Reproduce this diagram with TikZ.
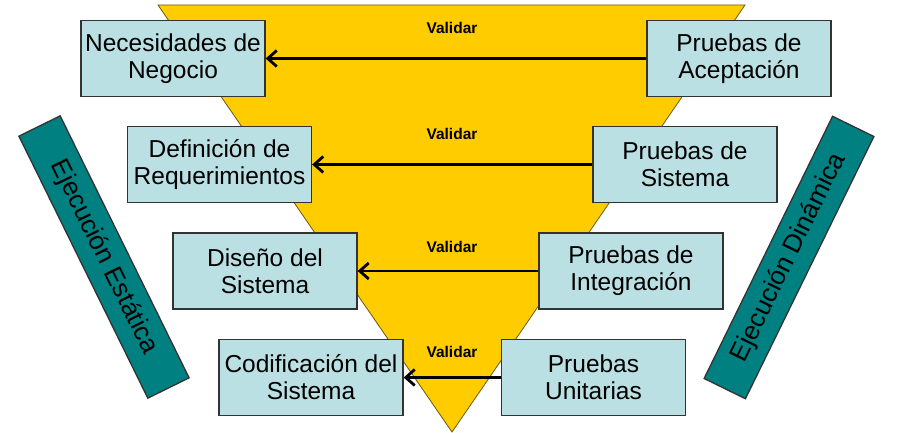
\documentclass[tikz,border=0pt]{standalone}
\usepackage{fontspec}
\setmainfont{Liberation Sans}
\usetikzlibrary{arrows.meta}
\definecolor{boxfill}{HTML}{BBE0E3}
\definecolor{tealbar}{HTML}{008080}
\definecolor{vyellow}{HTML}{FFCC00}
\definecolor{edgegray}{HTML}{333333}
\definecolor{triedge}{HTML}{6B5A10}
\begin{document}
\begin{tikzpicture}[x=1pt,y=-1pt,
  stage/.style={draw=edgegray, line width=1.3pt, fill=boxfill, minimum width=184pt, minimum height=76pt, inner sep=0pt, align=center, font=\fontsize{24.5}{27}\selectfont},
  phase/.style={draw=edgegray, line width=1.3pt, fill=tealbar, minimum width=292pt, minimum height=46pt, inner sep=0pt, font=\fontsize{26}{30}\selectfont},
  validar/.style={font=\bfseries\fontsize{15.5}{17}\selectfont},
  flow/.style={line width=2.8pt, -{Straight Barb[length=9pt,width=16pt]}}
]
\useasboundingbox (0,0) rectangle (900,433);
\fill[white] (0,0) rectangle (900,433);
\coordinate (tl) at (158,5);
\coordinate (tr) at (745,5);
\coordinate (ap) at (452,432);
\draw[fill=vyellow, draw=triedge, line width=0.8pt] (tl) -- (tr) -- (ap) -- cycle;

\node[stage] (L1) at (173,58.5) {Necesidades de\\Negocio};
\node[stage] (L2) at (219.5,164.5) {Definición de\\Requerimientos};
\node[stage] (L3) at (265,271) {Diseño del\\Sistema};
\node[stage] (L4) at (311,377.5) {Codificación del\\Sistema};

\node[stage] (R1) at (739,58.5) {Pruebas de\\Aceptación};
\node[stage] (R2) at (685,164.5) {Pruebas de\\Sistema};
\node[stage] (R3) at (631,271) {Pruebas de\\Integración};
\node[stage] (R4) at (593.5,377.5) {Pruebas\\Unitarias};

\draw[flow] (R1.west) -- (L1.east);
\draw[flow] (R2.west) -- (L2.east);
\draw[flow] (R3.west) -- (L3.east);
\draw[flow] (R4.west) -- (L4.east);

\node[validar] (v1) at (452,28) {Validar};
\node[validar] (v2) at (452,134) {Validar};
\node[validar] (v3) at (452,247) {Validar};
\node[validar] (v4) at (452,352) {Validar};

\node[phase, rotate=-63.8] (est) at (104,257) {Ejecución Estática};
\node[phase, rotate=63.9] (din) at (789,257.5) {Ejecución Dinámica};
\end{tikzpicture}
\end{document}
